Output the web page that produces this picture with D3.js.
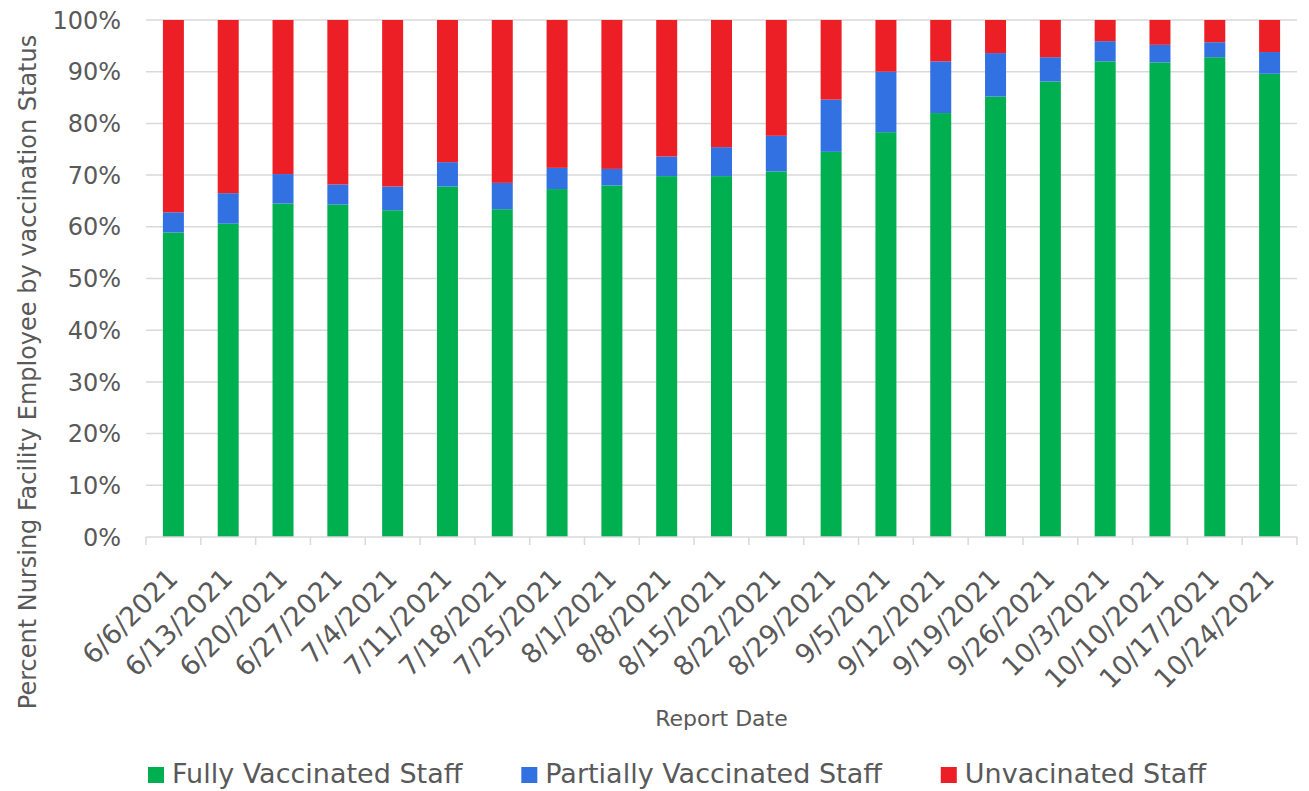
<!DOCTYPE html>
<html>
<head>
<meta charset="utf-8">
<script src="https://cdn.jsdelivr.net/npm/d3@7"></script>
<style>
  body { margin: 0; background: #fff; }
  svg text { font-family: "DejaVu Sans", sans-serif; fill: #595959; }
</style>
</head>
<body>
<svg id="chart" width="1309" height="791"></svg>
<script>
var dates = ['6/6/2021', '6/13/2021', '6/20/2021', '6/27/2021', '7/4/2021', '7/11/2021', '7/18/2021',
  '7/25/2021', '8/1/2021', '8/8/2021', '8/15/2021', '8/22/2021', '8/29/2021', '9/5/2021',
  '9/12/2021', '9/19/2021', '9/26/2021', '10/3/2021', '10/10/2021', '10/17/2021', '10/24/2021']
var fully = [58.9, 60.6, 64.5, 64.3, 63.2, 67.8, 63.4, 67.3, 68.0, 69.8, 69.8, 70.7, 74.5, 78.3,
  82.0, 85.2, 88.1, 92.0, 91.8, 92.8, 89.6]
var partially = [3.9, 5.9, 5.7, 3.9, 4.6, 4.7, 5.1, 4.1, 3.2, 3.8, 5.6, 6.9, 10.1, 11.7,
  10.0, 8.4, 4.7, 3.9, 3.4, 2.9, 4.2]
var unvaccinated = [37.2, 33.5, 29.8, 31.8, 32.2, 27.5, 31.5, 28.6, 28.8, 26.4, 24.6, 22.4, 15.4, 10.0,
  8.0, 6.4, 7.2, 4.1, 4.8, 4.3, 6.2]
var seriesNames = ['Fully Vaccinated Staff', 'Partially Vaccinated Staff', 'Unvacinated Staff']
var seriesKeys = ['fully', 'partially', 'unvaccinated']
var colors = ['#00AF50', '#3171E2', '#EC1F26']
var yTicks = [0, 10, 20, 30, 40, 50, 60, 70, 80, 90, 100]

var svg = d3.select('#chart')
var plotLeft = 146, plotRight = 1297, plotTop = 20, plotBottom = 537

// build rows for the stack
var rows = dates.map(function (d, i) {
  return { date: d, fully: fully[i], partially: partially[i], unvaccinated: unvaccinated[i] }
})

var x = d3.scaleBand().domain(dates).range([plotLeft, plotRight]).paddingInner(0.617).paddingOuter(0.3085)
var xOuter = d3.scaleBand().domain(dates).range([plotLeft, plotRight])
var y = d3.scaleLinear().domain([0, 100]).range([plotBottom, plotTop])

// gridlines
svg.append('g')
  .selectAll('line')
  .data(yTicks.slice(1))
  .join('line')
  .attr('x1', plotLeft).attr('x2', plotRight)
  .attr('y1', function (d) { return y(d) }).attr('y2', function (d) { return y(d) })
  .attr('stroke', '#d9d9d9').attr('stroke-width', 1.5)

// y labels
svg.append('g')
  .selectAll('text')
  .data(yTicks)
  .join('text')
  .attr('x', 121)
  .attr('y', function (d) { return y(d) })
  .attr('dy', '0.36em')
  .attr('text-anchor', 'end')
  .style('font-size', '24px')
  .text(function (d) { return d + '%' })

// stacked bars
var stack = d3.stack().keys(seriesKeys)
var layers = stack(rows)

svg.append('g')
  .selectAll('g')
  .data(layers)
  .join('g')
  .attr('fill', function (d, i) { return colors[i] })
  .selectAll('rect')
  .data(function (d) { return d })
  .join('rect')
  .attr('x', function (d) { return x(d.data.date) })
  .attr('width', x.bandwidth())
  .attr('y', function (d) { return y(d[1]) })
  .attr('height', function (d) { return y(d[0]) - y(d[1]) })

// x axis line and ticks
var axis = svg.append('g')
axis.append('line')
  .attr('x1', plotLeft).attr('x2', plotRight)
  .attr('y1', plotBottom).attr('y2', plotBottom)
  .attr('stroke', '#d9d9d9').attr('stroke-width', 1.5)
var boundaries = dates.map(function (d) { return xOuter(d) }).concat([plotRight])
axis.selectAll('.tick')
  .data(boundaries)
  .join('line')
  .attr('class', 'tick')
  .attr('x1', function (d) { return d }).attr('x2', function (d) { return d })
  .attr('y1', plotBottom).attr('y2', plotBottom + 8)
  .attr('stroke', '#d9d9d9').attr('stroke-width', 1.5)

// x labels, rotated
axis.selectAll('text')
  .data(dates)
  .join('text')
  .attr('transform', function (d) {
    var cx = x(d) + x.bandwidth() / 2
    return 'translate(' + (cx + 6) + ',' + 580 + ') rotate(-45)'
  })
  .attr('text-anchor', 'end')
  .style('font-size', '27px')
  .text(function (d) { return d })

// axis titles
svg.append('text')
  .attr('x', (plotLeft + plotRight) / 2)
  .attr('y', 726)
  .attr('text-anchor', 'middle')
  .style('font-size', '22px')
  .text('Report Date')

svg.append('text')
  .attr('transform', 'translate(36,372) rotate(-90)')
  .attr('text-anchor', 'middle')
  .style('font-size', '24px')
  .text('Percent Nursing Facility Employee by vaccination Status')

// legend
var legend = svg.append('g')
var items = legend.selectAll('g')
  .data(seriesNames)
  .join('g')
items.append('rect')
  .attr('width', 16).attr('height', 16)
  .attr('y', 767)
  .attr('fill', function (d, i) { return colors[i] })
items.append('text')
  .attr('x', 24)
  .attr('y', 783)
  .style('font-size', '27px')
  .text(function (d) { return d })

var offsets = [], pos = 0
items.each(function () {
  offsets.push(pos)
  pos += 24 + this.querySelector('text').getComputedTextLength() + 59
})
var total = pos - 59
var start = 677 - total / 2
items.attr('transform', function (d, i) { return 'translate(' + (start + offsets[i]) + ',0)' })
</script>
</body>
</html>
